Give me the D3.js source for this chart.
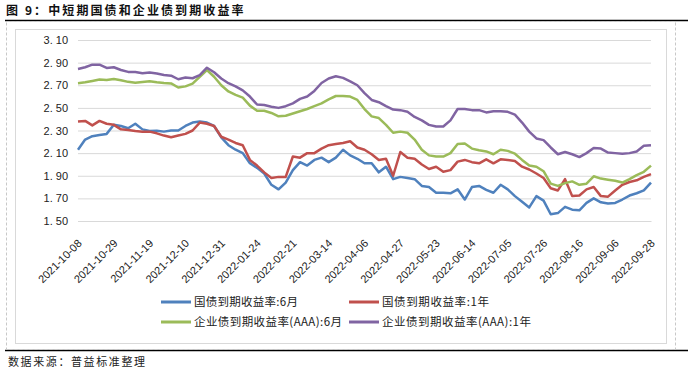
<!DOCTYPE html>
<html>
<head>
<meta charset="utf-8">
<script src="https://cdn.jsdelivr.net/npm/d3@7"></script>
<style>
    body{margin:0;background:#fff;}
    svg{display:block;}
    .gtxt{font-family:"Noto Sans CJK SC",sans-serif;}
    .num{font-family:"Liberation Sans",Arial,sans-serif;font-size:11px;fill:#222;}
</style>
</head>
<body>
<div id="canvas" class="canvas"></div>
<script>
//Data: every 3rd trading day from 2021-10-08 to 2022-09-28 (241 days)
var dayStep = 3;
var tickLabels = ['2021-10-08','2021-10-29','2021-11-19','2021-12-10','2021-12-31','2022-01-24','2022-02-21','2022-03-14','2022-04-06','2022-04-27','2022-05-23','2022-06-14','2022-07-05','2022-07-26','2022-08-16','2022-09-06','2022-09-28'];
var yTicks = [1.5,1.7,1.9,2.1,2.3,2.5,2.7,2.9,3.1];

var seriesNames = ['国债到期收益率:6月','国债到期收益率:1年','企业债到期收益率(AAA):6月','企业债到期收益率(AAA):1年'];
var seriesColors = ['#4f81bd','#c0504d','#9bbb59','#8064a2'];

var gov6m = [2.13,2.22,2.25,2.26,2.27,2.35,2.34,2.32,2.36,2.31,2.295,2.297,2.29,2.30,2.30,2.34,2.37,
    2.38,2.37,2.34,2.24,2.17,2.13,2.10,2.01,1.97,1.92,1.82,1.78,1.84,1.95,2.02,1.99,
    2.04,2.06,2.02,2.06,2.13,2.08,2.05,2.01,2.01,1.93,1.98,1.87,1.89,1.88,1.87,1.81,
    1.80,1.75,1.75,1.745,1.78,1.69,1.80,1.81,1.775,1.75,1.82,1.78,1.72,1.67,1.62,1.72,
    1.68,1.56,1.57,1.625,1.60,1.595,1.66,1.70,1.665,1.655,1.66,1.69,1.725,1.745,1.77,1.84];
var gov1y = [2.38,2.385,2.345,2.385,2.36,2.35,2.31,2.305,2.295,2.29,2.29,2.275,2.255,2.24,2.255,2.27,2.30,
    2.37,2.36,2.34,2.245,2.22,2.19,2.17,2.04,1.99,1.93,1.88,1.89,1.89,2.07,2.06,2.10,
    2.10,2.14,2.17,2.18,2.19,2.205,2.15,2.13,2.09,2.04,2.05,1.90,2.11,2.06,2.05,2.00,
    1.96,1.98,1.935,1.95,2.025,2.04,2.02,2.01,2.045,2.01,2.045,2.04,2.03,1.98,1.955,1.92,
    1.88,1.79,1.77,1.87,1.72,1.725,1.78,1.80,1.72,1.715,1.77,1.82,1.845,1.86,1.89,1.915];
var corp6m = [2.718,2.726,2.738,2.75,2.747,2.756,2.745,2.73,2.722,2.728,2.735,2.726,2.72,2.716,2.68,2.69,2.715,
    2.775,2.835,2.775,2.70,2.645,2.615,2.59,2.52,2.475,2.475,2.455,2.425,2.43,2.45,2.47,2.49,
    2.515,2.54,2.575,2.605,2.605,2.60,2.57,2.49,2.425,2.41,2.35,2.28,2.29,2.28,2.22,2.13,
    2.08,2.07,2.07,2.10,2.18,2.185,2.14,2.125,2.115,2.09,2.13,2.12,2.095,2.04,1.99,1.98,
    1.94,1.83,1.81,1.835,1.85,1.82,1.83,1.895,1.875,1.865,1.855,1.84,1.87,1.905,1.935,1.99];
var corp1y = [2.844,2.859,2.882,2.882,2.853,2.859,2.835,2.818,2.818,2.806,2.812,2.803,2.791,2.785,2.753,2.768,2.762,
    2.79,2.855,2.815,2.76,2.718,2.69,2.655,2.60,2.53,2.525,2.51,2.50,2.515,2.54,2.58,2.60,
    2.65,2.72,2.76,2.78,2.765,2.735,2.70,2.63,2.57,2.55,2.515,2.485,2.48,2.465,2.42,2.39,
    2.35,2.335,2.335,2.39,2.49,2.49,2.48,2.48,2.46,2.47,2.47,2.465,2.44,2.37,2.29,2.23,
    2.215,2.15,2.09,2.11,2.09,2.065,2.10,2.145,2.14,2.105,2.10,2.095,2.10,2.115,2.165,2.17];

var allSeries = [gov6m, gov1y, corp6m, corp1y];

var W = 688, H = 372;
var m = {t:40,r:37,b:151,l:78};
var w = W - m.l - m.r,
    h = H - m.t - m.b;

var svg = d3.select('.canvas')
    .append('svg')
    .attr('width',W)
    .attr('height',H);

//Frame: title, black rules, dashed box, chart border
svg.append('text')
    .attr('class','gtxt')
    .attr('x',6).attr('y',15)
    .style('font-size','12px').style('font-weight','bold')
    .style('letter-spacing','2.1px')
    .attr('fill','#111')
    .text('图 9：中短期国债和企业债到期收益率');
svg.append('line').attr('x1',5).attr('x2',W).attr('y1',20.5).attr('y2',20.5)
    .attr('stroke','#000').attr('stroke-width',1.5);
svg.append('line').attr('x1',5).attr('x2',W).attr('y1',350.5).attr('y2',350.5)
    .attr('stroke','#000').attr('stroke-width',1.5);
svg.append('rect').attr('x',6.5).attr('y',21.5).attr('width',669).attr('height',328)
    .attr('fill','none').attr('stroke','#c8c8c8').attr('stroke-dasharray','3,2');
svg.append('rect').attr('x',15.5).attr('y',29.5).attr('width',651).attr('height',314)
    .attr('fill','none').attr('stroke','#d9d9d9');
svg.append('text')
    .attr('class','gtxt')
    .attr('x',8).attr('y',366)
    .style('font-size','11px').style('letter-spacing','1.6px')
    .attr('fill','#222')
    .text('数据来源：普益标准整理');

var plot = svg.append('g')
    .attr('transform','translate(' + m.l + ',' + m.t + ')');

//Scales
var scaleX = d3.scaleLinear()
    .domain([0,(tickLabels.length-1)*15])
    .range([0,w]);
var scaleY = d3.scaleLinear()
    .domain([1.5,3.1])
    .range([h,0]);

//Axis y with grid
var axisY = d3.axisLeft()
    .scale(scaleY)
    .tickValues(yTicks)
    .tickSize(-w)
    .tickPadding(10)
    .tickFormat(function(d){ return d3.format('.2f')(d).replace('.','. '); });
var gy = plot.append('g').attr('class','axis axis-y').call(axisY);
gy.select('.domain').remove();
gy.selectAll('line').attr('stroke','#d9d9d9');
gy.selectAll('text').attr('class','num').attr('fill','#222');

//Axis x
var axisX = d3.axisBottom()
    .scale(scaleX)
    .tickValues(tickLabels.map(function(d,i){return i*15;}))
    .tickSize(0)
    .tickFormat(function(d){ return tickLabels[d/15]; });
var gx = plot.append('g').attr('class','axis axis-x')
    .attr('transform','translate(0,'+h+')')
    .call(axisX);
gx.select('.domain').attr('stroke','#d9d9d9');
gx.selectAll('text')
    .attr('class','num')
    .attr('fill','#222')
    .style('text-anchor','end')
    .attr('dy',null).attr('y',null)
    .attr('transform','translate(4,23) rotate(-45)');

//Lines
var line = d3.line()
    .x(function(d,i){ return scaleX(i*dayStep); })
    .y(function(d){ return scaleY(d); });

plot.selectAll('.series')
    .data(allSeries)
    .enter()
    .append('path')
    .attr('class','series')
    .attr('d',line)
    .attr('fill','none')
    .attr('stroke',function(d,i){ return seriesColors[i]; })
    .attr('stroke-width',2.5)
    .attr('stroke-linejoin','round');

//Legend
var legendWidths = [104,107,148,149];
var legend = svg.selectAll('.legend')
    .data(seriesNames)
    .enter()
    .append('g')
    .attr('class','legend')
    .attr('transform',function(d,i){
        return 'translate(' + (161 + (i%2)*188) + ',' + (302 + Math.floor(i/2)*20) + ')';
    });
legend.append('line')
    .attr('x1',0).attr('x2',30)
    .attr('stroke',function(d,i){ return seriesColors[i]; })
    .attr('stroke-width',3);
legend.append('text')
    .attr('class','gtxt')
    .attr('x',33).attr('y',4)
    .style('font-size','11.5px')
    .attr('textLength',function(d,i){ return legendWidths[i]; })
    .attr('lengthAdjust','spacing')
    .attr('fill','#222')
    .text(function(d){ return d; });
</script>
</body>
</html>
